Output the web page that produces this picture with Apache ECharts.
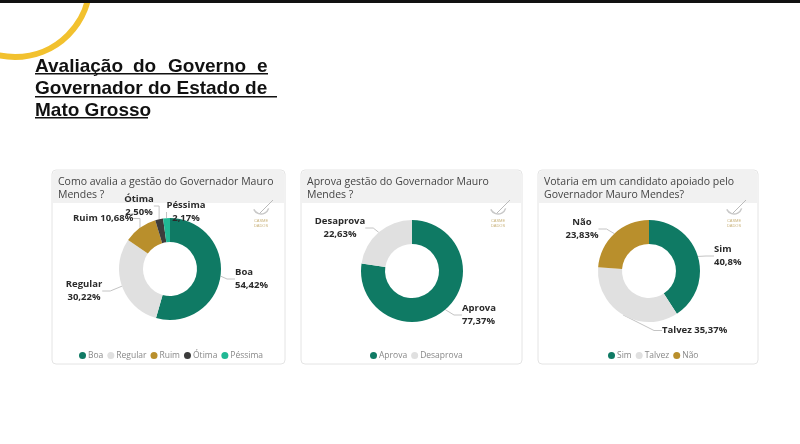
<!DOCTYPE html>
<html><head><meta charset="utf-8">
<script src="https://cdn.jsdelivr.net/npm/echarts@6/dist/echarts.min.js"></script>
<style>html,body{margin:0;padding:0;background:#fff}#c{width:800px;height:444px}</style>
</head><body><div id="c"></div>
<script>
const cat1 = ['Boa','Regular','Ruim','Ótima','Péssima'];
const val1 = [54.42,30.22,10.68,2.50,2.17];
const cat2 = ['Aprova','Desaprova'];
const val2 = [77.37,22.63];
const cat3 = ['Sim','Talvez','Não'];
const val3 = [40.8,35.37,23.83];
const oneLine1 = ['Ruim'];
const oneLine3 = ['Talvez'];
const decimals = [2,2,null];

// label anchor placement (text positions only), per series / data index
const labelPos = [
  [{x:235,y:266,align:'left'},{x:84,y:278,align:'center'},{x:73,y:212,align:'left'},{x:139,y:193,align:'center'},{x:186,y:199,align:'center'}],
  [{x:462,y:302,align:'left'},{x:340,y:215,align:'center'}],
  [{x:714,y:243,align:'left'},{x:662,y:324,align:'left'},{x:582,y:216,align:'center'}]
];

const TEAL='#0f7a64', GREY='#e0e0e0', GOLD='#b98f2c', DARK='#3c3c3c', MINT='#20b894';
const colors1=[TEAL,GREY,GOLD,DARK,MINT], colors2=[TEAL,GREY], colors3=[TEAL,GREY,GOLD];
const FONT='"Open Sans", "Noto Sans", sans-serif';

function fmt(v,d){return (d==null?String(v):v.toFixed(d)).replace('.',',')+'%';}
function mk(cats,vals,cols,single,d){
  return cats.map((c,i)=>({name:c,value:vals[i],itemStyle:{color:cols[i]},
    label:{formatter: single.indexOf(c)>=0 ? (c+' '+fmt(vals[i],d)) : (c+'\n'+fmt(vals[i],d))}}));
}
function pie(center,data,si){
  return {type:'pie',radius:[27,51],center:center,startAngle:90,clockwise:true,
    avoidLabelOverlap:false,data:data,
    label:{show:true,color:'#2a2a2a',fontFamily:FONT,fontSize:9.5,fontWeight:'bold',lineHeight:13},
    labelLine:{show:true,length:6,length2:8,lineStyle:{color:'#c4c4c4',width:1}},
    labelLayout:function(p){const q=labelPos[si][p.dataIndex];return {x:q.x,y:q.y,align:q.align,verticalAlign:'top'};},
    emphasis:{disabled:true}};
}
function legend(left,names,cols){
  return {top:346,left:left,itemWidth:7,itemHeight:7,itemGap:4,icon:'circle',data:names,
    textStyle:{color:'#888',fontSize:8.5,fontFamily:FONT,padding:[0,0,0,-3]},selectedMode:false};
}
function panel(x,w,lines){
  const els=[
    {type:'rect',shape:{x:x,y:170,width:w,height:194,r:4},style:{fill:'#fff',stroke:'#e4e4e4',lineWidth:1},z:-10},
    {type:'rect',shape:{x:x+1,y:171,width:w-2,height:32,r:[3,3,0,0]},style:{fill:'#f1f1f1'},z:-9}
  ];
  lines.forEach((t,i)=>els.push({type:'text',x:x+6,y:177+i*13,style:{text:t,fill:'#444',font:'10.5px '+FONT},z:-8}));
  els.push({type:'text',x:x+w-24,y:218,style:{text:'CASME\nDADOS',fill:'#c9b27a',font:'4px sans-serif',align:'center',lineHeight:5},z:-8});
  els.push({type:'line',shape:{x1:x+w-26,y1:214,x2:x+w-12,y2:200},style:{stroke:'#bbb',lineWidth:1},z:-8});
  els.push({type:'arc',shape:{cx:x+w-24,cy:206,r:8,startAngle:0.3,endAngle:2.7},style:{stroke:'#c8c8c8',lineWidth:1.5,fill:null},z:-8});
  return els;
}
const TF='bold 19px "Liberation Sans", Arial, sans-serif';
const graphics=[
  {type:'rect',shape:{x:0,y:0,width:800,height:3},style:{fill:'#111'},z:-5},
  {type:'arc',shape:{cx:15,cy:-18,r:75,startAngle:0,endAngle:Math.PI},style:{stroke:'#f2c12e',lineWidth:6,fill:null},z:-6},
  {type:'text',x:35,y:57,style:{text:'Avaliação',fill:'#111',font:TF}},
  {type:'text',x:133,y:57,style:{text:'do',fill:'#111',font:TF}},
  {type:'text',x:168,y:57,style:{text:'Governo',fill:'#111',font:TF}},
  {type:'text',x:257,y:57,style:{text:'e',fill:'#111',font:TF}},
  {type:'rect',shape:{x:35,y:73,width:233,height:1.6},style:{fill:'#111'}},
  {type:'text',x:35,y:79,style:{text:'Governador do Estado de',fill:'#111',font:TF}},
  {type:'rect',shape:{x:35,y:96,width:242,height:1.6},style:{fill:'#111'}},
  {type:'text',x:35,y:101,style:{text:'Mato Grosso',fill:'#111',font:TF}},
  {type:'rect',shape:{x:35,y:117,width:113,height:1.6},style:{fill:'#111'}},
  ...panel(52,233,['Como avalia a gestão do Governador Mauro','Mendes ?']),
  ...panel(301,221,['Aprova gestão do Governador Mauro','Mendes ?']),
  ...panel(538,220,['Votaria em um candidato apoiado pelo','Governador Mauro Mendes?'])
];
const chart=echarts.init(document.getElementById('c'),null,{renderer:'canvas'});
chart.setOption({
  animation:false,
  graphic:graphics,
  legend:[legend(74,cat1,colors1),legend(365,cat2,colors2),legend(603,cat3,colors3)],
  series:[
    pie([170,269],mk(cat1,val1,colors1,oneLine1,decimals[0]),0),
    pie([412,271],mk(cat2,val2,colors2,[],decimals[1]),1),
    pie([649,271],mk(cat3,val3,colors3,oneLine3,decimals[2]),2)
  ]
});
</script></body></html>
